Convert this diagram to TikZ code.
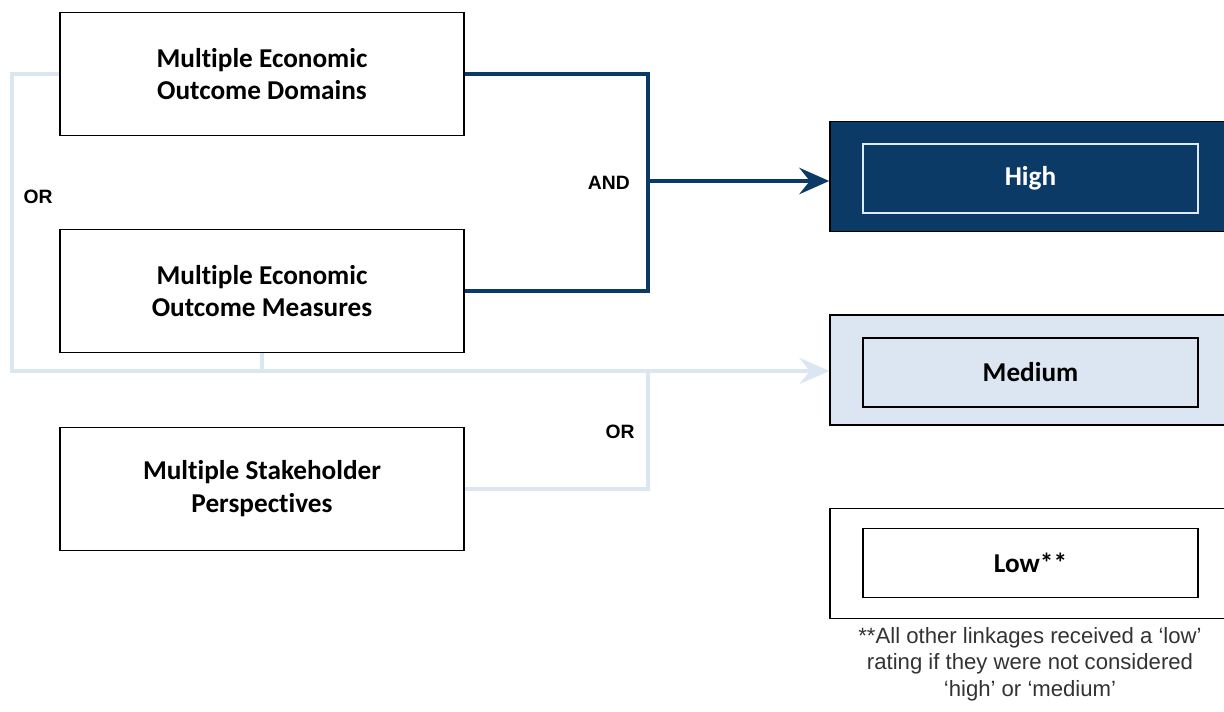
\documentclass[tikz,border=0pt]{standalone}
\usepackage{fontspec}
\setmainfont{Carlito}[Ligatures={NoCommon}]
\newfontfamily\arialfont{Liberation Sans}
\usetikzlibrary{positioning,arrows.meta}
\definecolor{navy}{HTML}{0B3A66}
\definecolor{paleblue}{HTML}{DCE6F2}
\definecolor{frameblue}{HTML}{DDEBF7}
\definecolor{notegray}{HTML}{333333}

\begin{document}
\begin{tikzpicture}[x=0.02cm,y=-0.02cm,
   factor/.style={draw,line width=1pt,minimum width=8.08cm,minimum height=2.46cm,
     align=center,font=\fontsize{15.5}{18.7}\selectfont\bfseries},
   rating/.style={draw,line width=1pt,minimum width=7.92cm,minimum height=2.2cm},
   inner/.style={draw,line width=1pt,minimum width=6.7cm,minimum height=1.38cm,
     font=\fontsize{15.5}{18}\selectfont\bfseries},
   andline/.style={draw=navy,line width=2.3pt},
   orline/.style={draw=paleblue,line width=2.3pt},
   tip/.style={-{Stealth[length=17pt,width=15pt,inset=6pt]}},
   gate/.style={font=\arialfont\fontsize{11}{13}\selectfont\bfseries}]

   \clip (0,0) rectangle (1224,712);
   \fill[white] (0,0) rectangle (1224,712);

   % left hand factors
   \node[factor] (dom)   at (262,74)  {Multiple Economic\\Outcome Domains};
   \node[factor] (meas)  at (262,291) {Multiple Economic\\Outcome Measures};
   \node[factor] (stake) at (262,489) {Multiple Stakeholder\\Perspectives};

   % ratings
   \node[rating,fill=navy] (high) at (1028,176.5) {};
   \node[inner,draw=frameblue,text=white] (highin) at (1030.5,178.5) {High};
   \node[rating,fill=paleblue] (med) at (1028,370) {};
   \node[inner,fill=paleblue] (medin) at (1030.5,372.5) {Medium};
   \node[rating] (low) at (1028,563.5) {};
   \node[inner] (lowin) at (1030.5,563) {Low**};

   \node[text=notegray,align=center,font=\arialfont\fontsize{12.6}{15}\selectfont]
      (note) at (1030,664) {**All other linkages received a ‘low’\\rating if they were not considered\\‘high’ or ‘medium’};

   % junctions
   \coordinate (andj) at (648,181);
   \coordinate (orj) at (648,371);
   \coordinate (orleft) at (12,371);

   % OR paths
   \path[orline]
    (dom.west) -| (orleft) -- (orj)
    (meas.south) -- (meas.south |- orleft)
    (stake.east) -| (orj);
   \draw[orline,tip] (orj) -- (orj -| med.west);

   % AND path
   \path[andline,line join=miter]
    (dom.east) -| (andj) |- (meas.east);
   \draw[andline,tip] (andj) -- (andj -| high.west);

   \node[gate] (or1) at (38,197) {OR};
   \node[gate,anchor=east] (and) at (636,183) {AND};
   \node[gate] (or2) at (620,432) {OR};

\end{tikzpicture}
\end{document}
